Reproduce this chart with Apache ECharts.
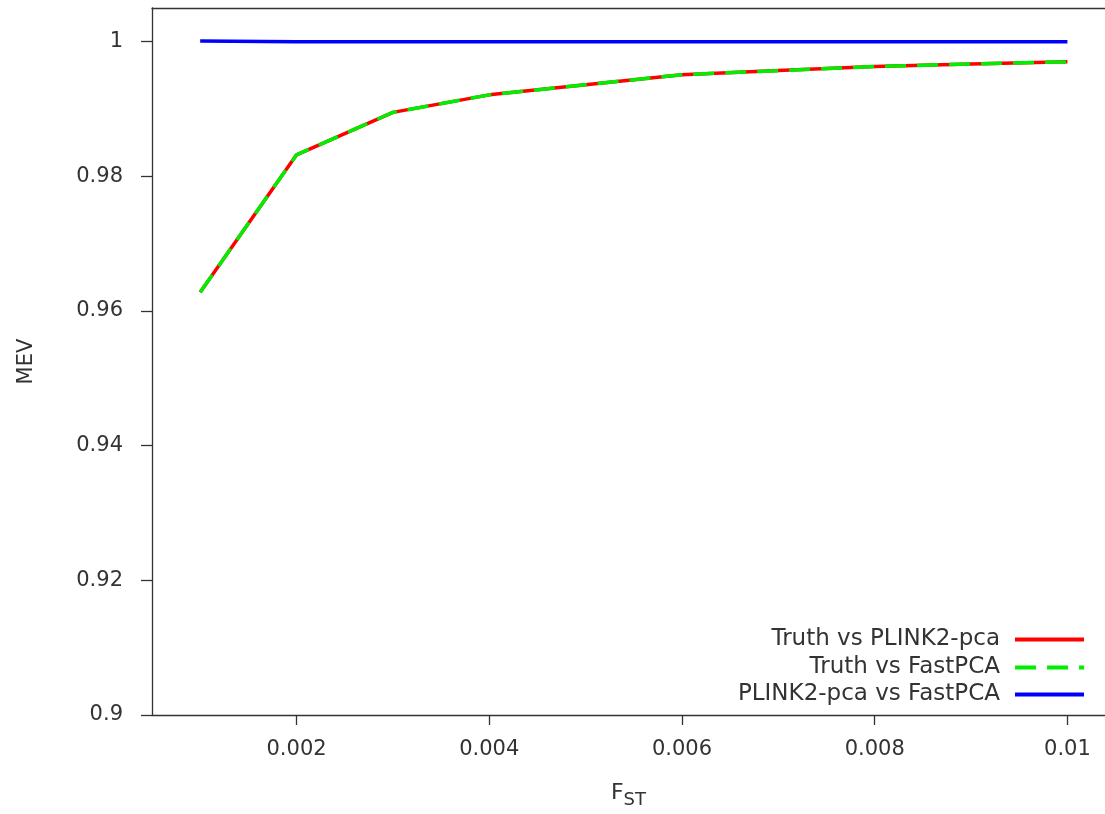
<!DOCTYPE html>
<html>
<head>
<meta charset="utf-8">
<script src="https://cdn.jsdelivr.net/npm/echarts@6/dist/echarts.min.js"></script>
<style>
html,body{margin:0;padding:0;background:#fff;}
#chart{width:1105px;height:814px;}
</style>
</head>
<body>
<div id="chart"></div>
<script>
const fst = [0.001, 0.002, 0.003, 0.004, 0.005, 0.006, 0.007, 0.008, 0.009, 0.01];
const truthVsPlink = [0.9628, 0.9832, 0.9895, 0.9921, 0.9936, 0.9951, 0.9957, 0.9963, 0.9967, 0.9970];
const truthVsFast  = [0.9628, 0.9832, 0.9895, 0.9921, 0.9936, 0.9951, 0.9957, 0.9963, 0.9967, 0.9970];
const plinkVsFast  = [1.0001, 1.0, 1.0, 1.0, 1.0, 1.0, 1.0, 1.0, 1.0, 1.0];
const xTickValues = [0.002, 0.004, 0.006, 0.008, 0.01];
const xTickLabels = ['0.002', '0.004', '0.006', '0.008', '0.01'];
const yTickValues = [0.9, 0.92, 0.94, 0.96, 0.98, 1.0];
const yTickLabels = ['0.9', '0.92', '0.94', '0.96', '0.98', '1'];
const seriesNames = ['Truth vs PLINK2-pca', 'Truth vs FastPCA', 'PLINK2-pca vs FastPCA'];

const FONT = 'DejaVu Sans';
const TXT = '#333';
const X_MIN = 0.0005, X_MAX = 0.01039;

function pair(xs, ys){ return xs.map((x,i)=>[x, ys[i]]); }
function lbl(vals, labels){ return v => { for (let i=0;i<vals.length;i++){ if (Math.abs(vals[i]-v) < 1e-9) return labels[i]; } return ''; }; }

const chart = echarts.init(document.getElementById('chart'), null, {renderer:'canvas'});

function legendAt(name, top){
  return {
    data:[name], right:19, top:top, orient:'vertical', align:'right',
    itemWidth:69, itemHeight:4, itemGap:0, padding:0,
    itemStyle:{opacity:0},
    lineStyle:{width:4},
    textStyle:{fontFamily:FONT, fontSize:23, color:TXT, padding:[0,10,0,0]},
    selectedMode:false
  };
}

chart.setOption({
  animation:false,
  backgroundColor:'#fff',
  grid:{left:152, top:8, width:953, height:709, show:false},
  legend:[legendAt(seriesNames[0], 628), legendAt(seriesNames[1], 656), legendAt(seriesNames[2], 683)],
  xAxis:[{
    type:'value', min:X_MIN, max:X_MAX,
    splitLine:{show:false},
    axisLine:{lineStyle:{color:'#333', width:1.3}},
    axisTick:{show:true, length:10, inside:false, customValues:xTickValues, lineStyle:{color:'#333', width:1.3}},
    axisLabel:{customValues:xTickValues, formatter:lbl(xTickValues, xTickLabels), fontFamily:FONT, fontSize:21, color:TXT, margin:24},
    name:'{a|F}{b|ST}', nameLocation:'middle', nameGap:62,
    nameTextStyle:{rich:{a:{fontFamily:FONT, fontSize:22, color:TXT}, b:{fontFamily:FONT, fontSize:18, color:TXT, padding:[14,0,0,0]}}}
  },{
    type:'value', position:'top', min:X_MIN, max:X_MAX,
    splitLine:{show:false}, axisTick:{show:false}, axisLabel:{show:false},
    axisLine:{lineStyle:{color:'#333', width:1.3}}
  }],
  yAxis:{
    type:'value', min:0.9, max:1.005,
    splitLine:{show:false},
    axisLine:{lineStyle:{color:'#333', width:1.3}},
    axisTick:{show:true, length:11, inside:false, customValues:yTickValues, lineStyle:{color:'#333', width:1.3}},
    axisLabel:{customValues:yTickValues, formatter:lbl(yTickValues, yTickLabels), fontFamily:FONT, fontSize:21, color:TXT, margin:29},
    name:'MEV', nameLocation:'middle', nameGap:115, nameRotate:90,
    nameTextStyle:{fontFamily:FONT, fontSize:21, color:TXT}
  },
  series:[
    {name:seriesNames[0], type:'line', data:pair(fst, truthVsPlink), symbol:'none', color:'#ff0000',
     lineStyle:{color:'#ff0000', width:3.5, type:'solid'}, z:2},
    {name:seriesNames[1], type:'line', data:pair(fst, truthVsFast), symbol:'none', color:'#00ee00',
     lineStyle:{color:'#00ee00', width:3.5, type:[21,11]}, z:3},
    {name:seriesNames[2], type:'line', data:pair(fst, plinkVsFast), symbol:'none', color:'#0000ff',
     lineStyle:{color:'#0000ff', width:3.5, type:'solid'}, z:4}
  ]
});
</script>
</body>
</html>
